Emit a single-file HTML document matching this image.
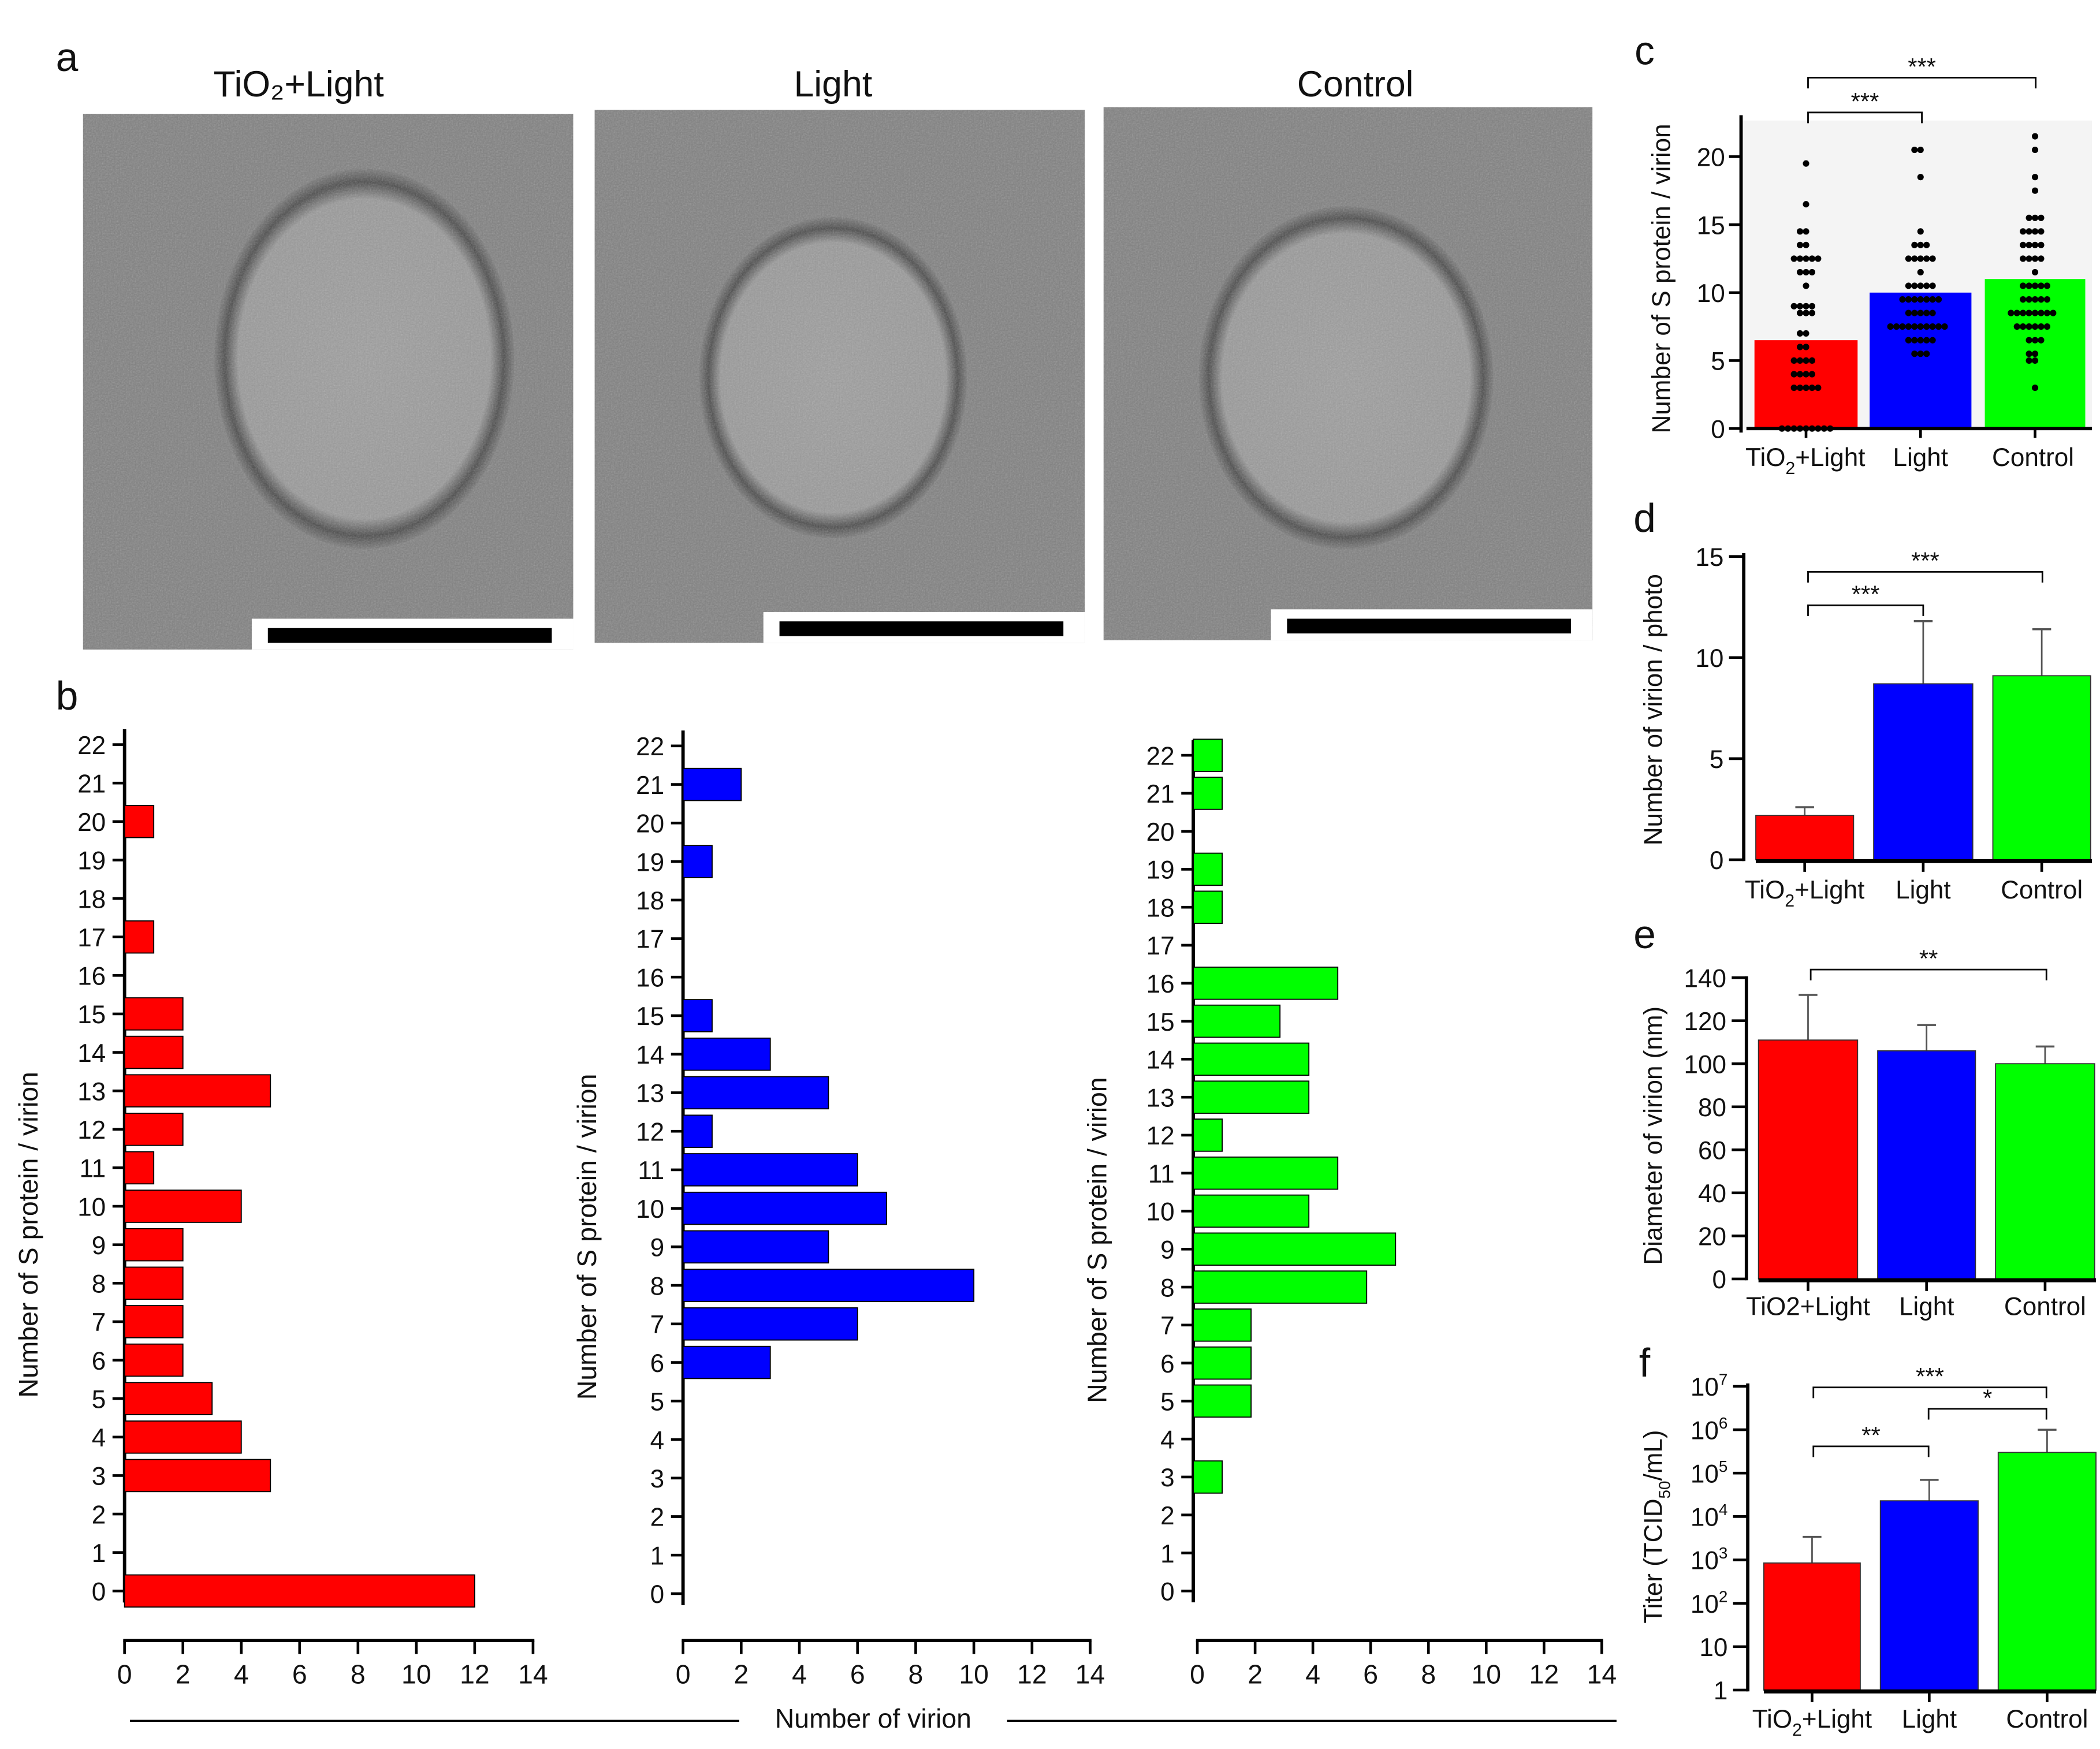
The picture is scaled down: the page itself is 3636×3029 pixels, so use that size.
<!DOCTYPE html>
<html><head><meta charset="utf-8"><style>
html,body{margin:0;padding:0;background:#fff}
svg{display:block}
text{font-family:"Liberation Sans",sans-serif;fill:#111}
</style></head><body>
<svg id="fig" width="3636" height="3029" viewBox="0 0 1568 1306" preserveAspectRatio="none" xmlns="http://www.w3.org/2000/svg">
<defs>
<filter id="noise" x="0" y="0" width="100%" height="100%"><feTurbulence type="fractalNoise" baseFrequency="0.9" numOctaves="2" seed="3"/><feColorMatrix type="saturate" values="0"/><feComponentTransfer><feFuncA type="linear" slope="0.35"/></feComponentTransfer></filter>
<radialGradient id="vir" cx="50%" cy="50%" r="50%"><stop offset="0%" stop-color="#9e9e9e"/><stop offset="84%" stop-color="#999"/><stop offset="93%" stop-color="#4a4a4a"/><stop offset="100%" stop-color="#7a7a7a"/></radialGradient>
</defs>
<g id="root"></g>
</svg>
<script>
const NS="http://www.w3.org/2000/svg";
const root=document.getElementById('root');
function el(tag,attrs,parent,txt){const e=document.createElementNS(NS,tag);for(const k in attrs)e.setAttribute(k,attrs[k]);if(txt!==undefined)e.textContent=txt;(parent||root).appendChild(e);return e;}
function T(x,y,s,size,anchor,parent){return el('text',{x:x,y:y,'font-size':size||19,'text-anchor':anchor||'middle'},parent,s);}

// ---- Data ----
const hcats=[0,1,2,3,4,5,6,7,8,9,10,11,12,13,14,15,16,17,18,19,20,21,22];
const redCounts=[12,0,0,5,4,3,2,2,2,2,4,1,2,5,2,2,0,1,0,0,1,0,0];
const blueCounts=[0,0,0,0,0,0,3,6,10,5,7,6,1,5,3,1,0,0,0,1,0,2,0];
const greenCounts=[0,0,0,1,0,2,2,2,6,7,4,5,1,4,4,3,5,0,1,1,0,1,1];
const xTicks=[0,2,4,6,8,10,12,14];
const groups=['TiO2+Light','Light','Control'];
const cMeans=[6.5,10,11];
const cRed=[0,0,0,0,0,0,0,0,0,3,3,3,3,3,4,4,4,4,5,5,5,5,6,6,7,7,8.5,8.5,8.5,9,9,9,9,10.5,11.5,11.5,11.5,12.5,12.5,12.5,12.5,12.5,13.5,13.5,14.5,14.5,16.5,19.5];
const cBlue=[5.5,5.5,5.5,6.5,6.5,6.5,6.5,6.5,7.5,7.5,7.5,7.5,7.5,7.5,7.5,7.5,7.5,7.5,8.5,8.5,8.5,8.5,8.5,9.5,9.5,9.5,9.5,9.5,9.5,9.5,10.5,10.5,10.5,10.5,10.5,11.5,12.5,12.5,12.5,12.5,12.5,13.5,13.5,13.5,14.5,18.5,20.5,20.5];
const cGreen=[3,5,5,5.5,5.5,6.5,6.5,6.5,7.5,7.5,7.5,7.5,7.5,7.5,8.5,8.5,8.5,8.5,8.5,8.5,8.5,8.5,9.5,9.5,9.5,9.5,9.5,10.5,10.5,10.5,10.5,10.5,11.5,12.5,12.5,12.5,12.5,13.5,13.5,13.5,13.5,14.5,14.5,14.5,14.5,15.5,15.5,15.5,17.5,18.5,20.5,21.5];
const dMeans=[2.2,8.7,9.1], dErr=[2.6,11.8,11.4];
const eMeans=[111,106,100], eErr=[132,118,108];
const fMeans=[850,23000,300000], fErr=[3400,70000,1000000];
const colors=['#ff0000','#0000ff','#00ff00'];

// ---- Panel a micrographs ----
T(50,53,'a',30,'middle');
const imgs=[[62,85,366,400,'TiO₂+Light',223,272,268,112,142],[444,82,366,398,'Light',622,622,282,100,120],[824,80,365,398,'Control',1012,1005,282,110,128]];
imgs.forEach((m,i)=>{
  const g=el('g',{},root);
  
  
  el('rect',{x:m[0],y:m[1],width:m[2],height:m[3],fill:'#808080'},g);
  el('ellipse',{cx:m[6],cy:m[7],rx:m[8],ry:m[9],fill:'url(#vir)'},g);
  el('rect',{x:m[0],y:m[1],width:m[2],height:m[3],filter:'url(#noise)'},g);
  el('rect',{x:m[0]+m[2]-240,y:m[1]+m[3]-23,width:240,height:23,fill:'#fff'},g);
  el('rect',{x:m[0]+m[2]-228,y:m[1]+m[3]-16,width:212,height:11,fill:'#000'},g);
  const t=T(m[5],72,m[4],27,'middle');
  
  
});

// ---- Panel b histograms ----
T(50,530,'b',30,'middle');
const hists=[[93,1188,556,93,398,redCounts,0],[510,1190,557,510,814,blueCounts,1],[891,1188,564,894,1196,greenCounts,2]];
hists.forEach((h,k)=>{
  const [ax,y0,y22,x0,x14,counts,ci]=h;
  const g=el('g',{},root);
  
  
  const ys=v=>y0+(y22-y0)*v/22, xs=v=>x0+(x14-x0)*v/14;
  el('line',{x1:ax,y1:ys(-0.3),x2:ax,y2:ys(22.4),stroke:'#000','stroke-width':2.5},g);
  hcats.forEach(c=>{
    el('line',{x1:ax-9,y1:ys(c),x2:ax,y2:ys(c),stroke:'#000','stroke-width':2},g);
    T(ax-14,ys(c)+7,String(c),19,'end',g);
  });
  hcats.forEach((c,i)=>{
    if(!counts[i])return;
    const b=el('rect',{x:ax,y:ys(c)-12,width:xs(counts[i])-x0,height:24,fill:colors[ci],stroke:'#000','stroke-width':0.8},g);
    
    
  });
  el('line',{x1:xs(0)-1,y1:1225,x2:xs(14)+1,y2:1225,stroke:'#000','stroke-width':2.5},g);
  xTicks.forEach(t=>{
    el('line',{x1:xs(t),y1:1225,x2:xs(t),y2:1235,stroke:'#000','stroke-width':2},g);
    T(xs(t),1257,String(t),20,'middle',g);
  });
  const yt=el('text',{x:0,y:0,'font-size':20,'text-anchor':'middle',transform:`translate(${ax-65},${(y0+y22)/2+50}) rotate(-90)`},g,'Number of S protein / virion');
  
  
});
el('line',{x1:97,y1:1285,x2:552,y2:1285,stroke:'#000','stroke-width':1.5});
el('line',{x1:752,y1:1285,x2:1207,y2:1285,stroke:'#000','stroke-width':1.5});
const xt=T(652,1290,'Number of virion',20,'middle');



function sig(x1,x2,y,label,g){
  el('path',{d:`M${x1},${y+8}V${y}H${x2}V${y+8}`,fill:'none',stroke:'#000','stroke-width':1.2},g);
  T((x1+x2)/2,y-2,label,18,'middle',g);
}
function groupLabels(xs,y,names,g){names.forEach((n,i)=>{if(n==='TiO2s'){const t=el('text',{x:xs[i],y:y,'font-size':19,'text-anchor':'middle'},g);t.innerHTML='TiO<tspan font-size="13" dy="6">2</tspan><tspan dy="-6">+Light</tspan>';}else T(xs[i],y,n,19,'middle',g);});}

// ---- Panel c ----
(function(){
  const g=el('g',{},root);
  
  
  T(1228,48,'c',30,'middle',g);
  const y0=320,y20=117,ys=v=>y0+(y20-y0)*v/20;
  el('rect',{x:1300,y:90,width:262,height:230,fill:'#f4f4f4'},g);
  const bx=[[1310,1387],[1396,1472],[1482,1557]];
  cMeans.forEach((m,i)=>{
    const b=el('rect',{x:bx[i][0],y:ys(m),width:bx[i][1]-bx[i][0],height:y0-ys(m),fill:colors[i]},g);
    
    
  });
  [cRed,cBlue,cGreen].forEach((arr,i)=>{
    const cx=(bx[i][0]+bx[i][1])/2, seen={};
    arr.forEach(v=>{const n=seen[v]=(seen[v]||0)+1;const off=((n%2)?1:-1)*Math.floor(n/2)*4.5;
      const d=el('circle',{cx:cx+off,cy:ys(v),r:2.4,fill:'#000'},g);
      
      });
  });
  el('line',{x1:1300,y1:86,x2:1300,y2:y0+3,stroke:'#000','stroke-width':2.5},g);
  el('line',{x1:1304,y1:y0,x2:1562,y2:y0,stroke:'#000','stroke-width':2.5},g);
  bx.forEach(b=>el('line',{x1:(b[0]+b[1])/2,y1:y0,x2:(b[0]+b[1])/2,y2:y0+7,stroke:'#000','stroke-width':2},g));
  [0,5,10,15,20].forEach(t=>{el('line',{x1:1291,y1:ys(t),x2:1300,y2:ys(t),stroke:'#000','stroke-width':2},g);T(1288,ys(t)+7,String(t),19,'end',g);});
  el('text',{'font-size':19,'text-anchor':'middle',transform:'translate(1247,208) rotate(-90)'},g,'Number of S protein / virion');
  groupLabels([1348,1434,1518],348,['TiO2s','Light','Control'],g);
  sig(1350,1435,84,'***',g); sig(1350,1520,58,'***',g);
})();

function barPanel(name,label,ly,ax,y0,ytop,scale,ticks,tickLbl,means,errs,bx,title,tyc,labY,names,sigs,maxX){
  const g=el('g',{},root);
  
  
  T(1228,ly,label,30,'middle',g);
  const ys=v=>y0-scale(v);
  means.forEach((m,i)=>{
    const cx=(bx[i][0]+bx[i][1])/2;
    el('line',{x1:cx,y1:ys(m),x2:cx,y2:ys(errs[i]),stroke:'#555','stroke-width':1.2},g);
    el('line',{x1:cx-7,y1:ys(errs[i]),x2:cx+7,y2:ys(errs[i]),stroke:'#555','stroke-width':1.5},g);
    const b=el('rect',{x:bx[i][0],y:ys(m),width:bx[i][1]-bx[i][0],height:y0-ys(m),fill:colors[i],stroke:'#333','stroke-width':0.8},g);
    
    
  });
  el('line',{x1:ax,y1:ytop,x2:ax,y2:y0+1,stroke:'#000','stroke-width':2.5},g);
  el('line',{x1:bx[0][0],y1:y0+1,x2:maxX,y2:y0+1,stroke:'#000','stroke-width':3},g);
  bx.forEach(b=>el('line',{x1:(b[0]+b[1])/2,y1:y0,x2:(b[0]+b[1])/2,y2:y0+9,stroke:'#000','stroke-width':2},g));
  ticks.forEach((t,i)=>{el('line',{x1:ax-11,y1:ys(t),x2:ax,y2:ys(t),stroke:'#000','stroke-width':2},g);
    const tt=el('text',{x:ax-15,y:ys(t)+7,'font-size':19,'text-anchor':'end'},g);tt.innerHTML=tickLbl[i];});
  const yt=el('text',{'font-size':19,'text-anchor':'middle',transform:`translate(1241,${tyc}) rotate(-90)`},g);yt.innerHTML=title;
  groupLabels(bx.map(b=>(b[0]+b[1])/2),labY,names,g);
  sigs.forEach(s=>sig(s[0],s[1],s[2],s[3],g));
}
barPanel('panel-d-virion-per-photo','d',397,1302,642,413,v=>v*15.1,[0,5,10,15],['0','5','10','15'],dMeans,dErr,[[1311,1384],[1399,1473],[1488,1561]],'Number of virion / photo',530,671,['TiO2s','Light','Control'],[[1350,1436,452,'***'],[1350,1525,427,'***']],1562);
barPanel('panel-e-diameter','e',708,1304,955,729,v=>v*1.607,[0,20,40,60,80,100,120,140],['0','20','40','60','80','100','120','140'],eMeans,eErr,[[1313,1387],[1402,1475],[1490,1564]],'Diameter of virion (nm)',848,982,['TiO2+Light','Light','Control'],[[1352,1528,724,'**']],1565);
barPanel('panel-f-titer','f',1028,1305,1262,1033,v=>Math.log10(v)*32.4,[1,10,100,1000,1e4,1e5,1e6,1e7],['1','10','10<tspan font-size="12" dy="-8">2</tspan>','10<tspan font-size="12" dy="-8">3</tspan>','10<tspan font-size="12" dy="-8">4</tspan>','10<tspan font-size="12" dy="-8">5</tspan>','10<tspan font-size="12" dy="-8">6</tspan>','10<tspan font-size="12" dy="-8">7</tspan>'],fMeans,fErr,[[1317,1389],[1404,1477],[1492,1565]],'Titer (TCID<tspan font-size="12" dy="6">50</tspan><tspan dy="-6">/mL)</tspan>',1140,1290,['TiO2s','Light','Control'],[[1354,1440,1080,'**'],[1440,1528,1052,'*'],[1354,1528,1036,'***']],1565);
</script>
</body></html>
